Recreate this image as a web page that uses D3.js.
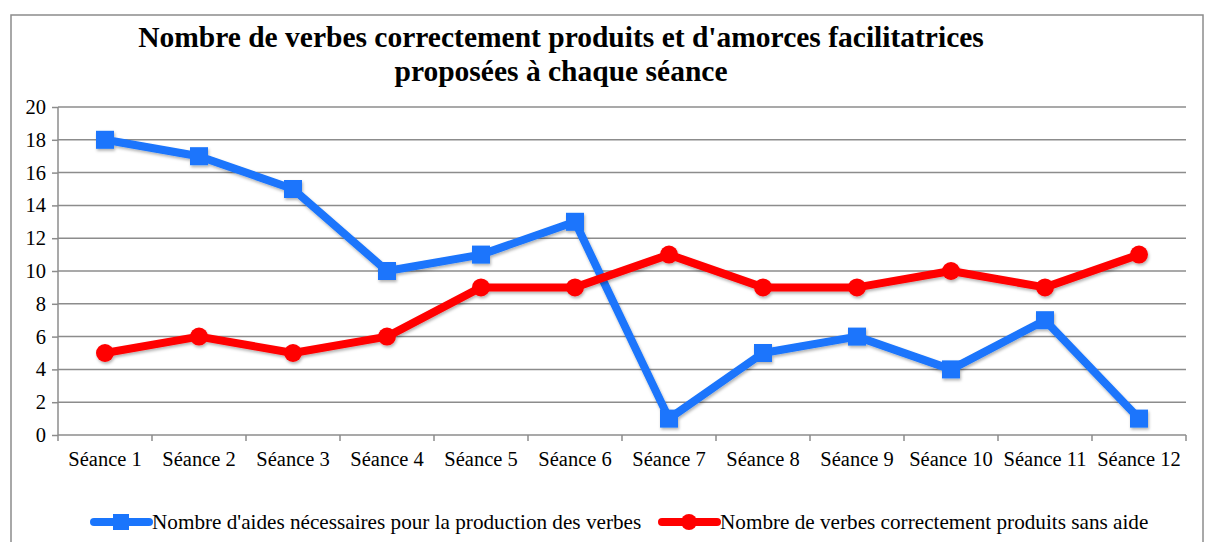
<!DOCTYPE html>
<html>
<head>
<meta charset="utf-8">
<script src="https://cdn.jsdelivr.net/npm/d3@7"></script>
<style>
  body { margin: 0; background: #fff; }
  text { font-family: "Liberation Serif", "Times New Roman", serif; }
</style>
</head>
<body>
<div id="chart-area"></div>
<script>
// SVG Size
let width = 1206,
	height = 542;

// data
let seances = ["Séance 1", "Séance 2", "Séance 3", "Séance 4", "Séance 5", "Séance 6",
	"Séance 7", "Séance 8", "Séance 9", "Séance 10", "Séance 11", "Séance 12"];
let aides = [18, 17, 15, 10, 11, 13, 1, 5, 6, 4, 7, 1];
let verbes = [5, 6, 5, 6, 9, 9, 11, 9, 9, 10, 9, 11];
let yTicks = [0, 2, 4, 6, 8, 10, 12, 14, 16, 18, 20];
let seriesNames = ["Nombre d'aides nécessaires pour la production des verbes",
	"Nombre de verbes correctement produits sans aide"];

let blue = "#1a75fc",
	red = "#ff0000",
	grey = "#8c8c8c";

let svg = d3.select("#chart-area")
	.append("svg")
	.attr("width", width)
	.attr("height", height);

// shadow filter for the markers / lines
let defs = svg.append("defs");
let f = defs.append("filter").attr("id", "shadow")
	.attr("x", "-20%").attr("y", "-20%").attr("width", "140%").attr("height", "160%");
f.append("feDropShadow")
	.attr("dx", 1).attr("dy", 2).attr("stdDeviation", 1.5)
	.attr("flood-color", "#000").attr("flood-opacity", 0.3);

// outer border
svg.append("rect")
	.attr("x", 11).attr("y", 15)
	.attr("width", 1192).attr("height", 560)
	.attr("fill", "none")
	.attr("stroke", grey)
	.attr("stroke-width", 1.5);

// title
let title = svg.append("text")
	.attr("text-anchor", "middle")
	.attr("font-weight", "bold")
	.attr("font-size", 29.5);
title.append("tspan").attr("x", 561).attr("y", 47)
	.text("Nombre de verbes correctement produits et d'amorces facilitatrices");
title.append("tspan").attr("x", 561).attr("y", 81)
	.text("proposées à chaque séance");

let x0 = 58, x1 = 1186, yTop = 107, yBot = 435;

let xScale = d3.scaleBand()
	.domain(seances)
	.range([x0, x1]);

let yScale = d3.scaleLinear()
	.domain([0, 20])
	.range([yBot, yTop]);

// gridlines
svg.append("g")
	.selectAll("line")
	.data(yTicks.filter(d => d > 0))
	.enter()
	.append("line")
	.attr("x1", x0).attr("x2", x1)
	.attr("y1", d => yScale(d)).attr("y2", d => yScale(d))
	.attr("stroke", grey)
	.attr("stroke-width", 1.5);

// y axis
let yAxis = d3.axisLeft(yScale)
	.tickValues(yTicks)
	.tickSize(6)
	.tickPadding(6);

let gy = svg.append("g")
	.attr("transform", "translate(" + x0 + ",0)")
	.call(yAxis);
gy.select(".domain").attr("stroke", grey).attr("stroke-width", 1.5).attr("d", "M0," + yTop + "V" + yBot);
gy.selectAll(".tick line").attr("stroke", grey).attr("stroke-width", 1.5);
gy.selectAll(".tick text")
	.attr("font-size", 20.5)
	.attr("fill", "#000")
	.style("font-family", "'Liberation Serif', serif");

// x axis
let xAxis = d3.axisBottom(xScale)
	.tickSize(0)
	.tickPadding(16);

let gx = svg.append("g")
	.attr("transform", "translate(0," + yBot + ")")
	.call(xAxis);
gx.select(".domain").attr("stroke", grey).attr("stroke-width", 1.5).attr("d", "M" + x0 + ",0H" + x1);
gx.selectAll(".tick text")
	.attr("font-size", 20.5)
	.attr("fill", "#000")
	.style("font-family", "'Liberation Serif', serif");

// x ticks at band boundaries
gx.append("g")
	.selectAll("line")
	.data(d3.range(seances.length + 1))
	.enter()
	.append("line")
	.attr("x1", i => x0 + i * xScale.step())
	.attr("x2", i => x0 + i * xScale.step())
	.attr("y1", 0).attr("y2", 6)
	.attr("stroke", grey)
	.attr("stroke-width", 1.5);

let cx = (d, i) => xScale(seances[i]) + xScale.bandwidth() / 2;

let line = d3.line()
	.x(cx)
	.y(d => yScale(d));

// blue series
let gb = svg.append("g").attr("filter", "url(#shadow)");
gb.append("path")
	.datum(aides)
	.attr("d", line)
	.attr("fill", "none")
	.attr("stroke", blue)
	.attr("stroke-width", 8)
	.attr("stroke-linejoin", "round");
gb.selectAll("rect")
	.data(aides)
	.enter()
	.append("rect")
	.attr("x", (d, i) => cx(d, i) - 9)
	.attr("y", d => yScale(d) - 9)
	.attr("width", 18).attr("height", 18)
	.attr("fill", blue);

// red series
let gr = svg.append("g").attr("filter", "url(#shadow)");
gr.append("path")
	.datum(verbes)
	.attr("d", line)
	.attr("fill", "none")
	.attr("stroke", red)
	.attr("stroke-width", 8)
	.attr("stroke-linejoin", "round");
gr.selectAll("circle")
	.data(verbes)
	.enter()
	.append("circle")
	.attr("cx", cx)
	.attr("cy", d => yScale(d))
	.attr("r", 9)
	.attr("fill", red);

// legend
let legendY = 522;
let legend = [
	{ name: seriesNames[0], color: blue, x: 94, shape: "square" },
	{ name: seriesNames[1], color: red, x: 662, shape: "circle" }
];
legend.forEach(l => {
	let g = svg.append("g");
	g.append("line")
		.attr("x1", l.x).attr("x2", l.x + 55)
		.attr("y1", legendY).attr("y2", legendY)
		.attr("stroke", l.color)
		.attr("stroke-width", 8)
		.attr("stroke-linecap", "round");
	if (l.shape === "square") {
		g.append("rect")
			.attr("x", l.x + 27 - 8).attr("y", legendY - 8)
			.attr("width", 16).attr("height", 16)
			.attr("fill", l.color);
	} else {
		g.append("circle")
			.attr("cx", l.x + 27).attr("cy", legendY)
			.attr("r", 8)
			.attr("fill", l.color);
	}
	g.append("text")
		.attr("x", l.x + 58)
		.attr("y", legendY + 7)
		.attr("font-size", 21.2)
		.text(l.name);
});
</script>
</body>
</html>
